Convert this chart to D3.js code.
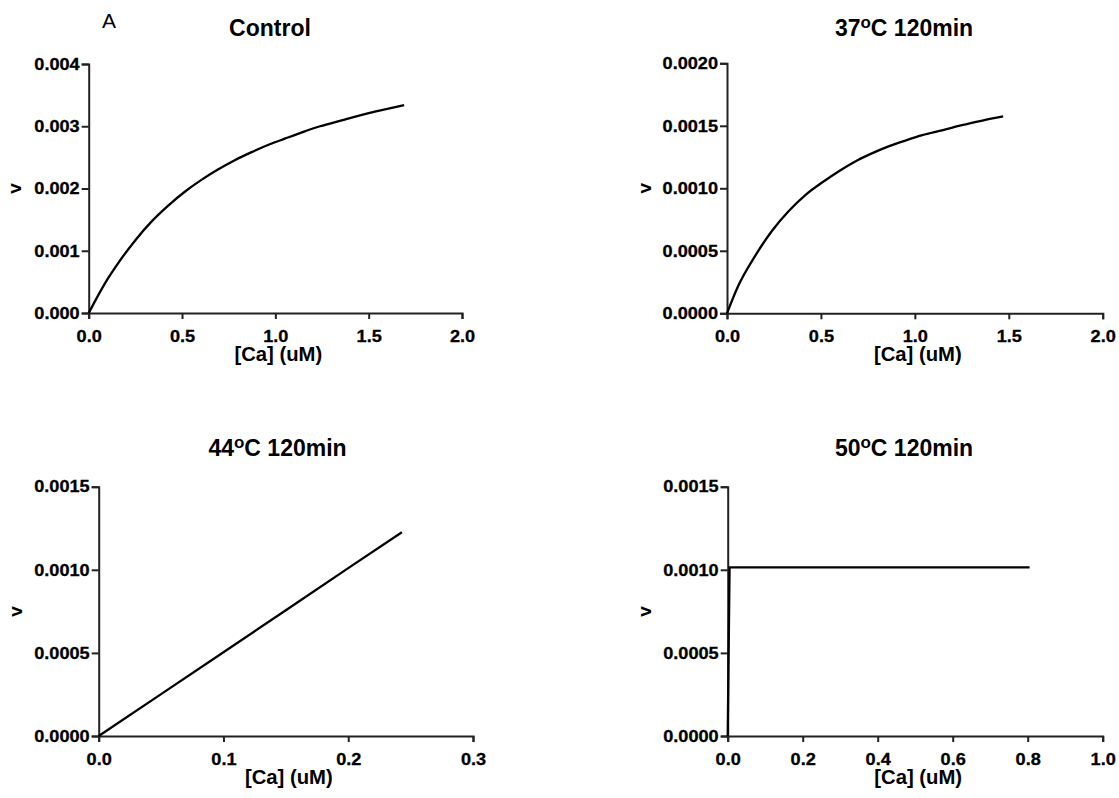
<!DOCTYPE html>
<html>
<head>
<meta charset="utf-8">
<script src="https://cdn.jsdelivr.net/npm/d3@7"></script>
<style>
  body { margin: 0; background: #fff; }
  svg { display: block; }
</style>
</head>
<body>
<svg width="1119" height="798"></svg>
<script>
// Values
const controlCa = [0, 0.05, 0.1, 0.16, 0.25, 0.34, 0.42, 0.52, 0.6, 0.69, 0.78, 0.87, 0.97, 1.05, 1.15, 1.24, 1.35, 1.5, 1.6, 1.69];
const controlV  = [0, 0.00028, 0.00054, 0.00081, 0.00117, 0.00148, 0.00171, 0.00196, 0.00213, 0.00230, 0.00245, 0.00258, 0.00271, 0.00280, 0.00291, 0.00300, 0.00309, 0.00321, 0.00328, 0.00334];

const t37Ca = [0, 0.06, 0.15, 0.24, 0.33, 0.42, 0.51, 0.6, 0.69, 0.78, 0.86, 0.95, 1.04, 1.15, 1.25, 1.36, 1.47];
const t37V  = [0, 0.00022, 0.00046, 0.00066, 0.00082, 0.00095, 0.00105, 0.00114, 0.00122, 0.001285, 0.001335, 0.001382, 0.001425, 0.001465, 0.001505, 0.001542, 0.001575];

const t44Ca = [0, 0.05, 0.1, 0.15, 0.2, 0.243];
const t44V  = [0, 0.000252, 0.000504, 0.000757, 0.00101, 0.001226];

const t50Ca = [0, 0.005, 0.2, 0.4, 0.6, 0.805];
const t50V  = [0, 0.001015, 0.001015, 0.001015, 0.001015, 0.001015];

// tick labels
const caTicks2  = [0, 0.5, 1.0, 1.5, 2.0];
const caTicks03 = [0, 0.1, 0.2, 0.3];
const caTicks1  = [0, 0.2, 0.4, 0.6, 0.8, 1.0];
const vTicks4   = [0, 0.001, 0.002, 0.003, 0.004];
const vTicks2   = [0, 0.0005, 0.001, 0.0015, 0.002];
const vTicks15  = [0, 0.0005, 0.001, 0.0015];

const svg = d3.select("svg");
const font = "'Liberation Sans', Arial, sans-serif";
const stretch = 1.1; // reference tick text is a bit wide

const panels = [
  { pre: "Control", sup: "", post: "", ca: controlCa, v: controlV, xTicks: caTicks2, yTicks: vTicks4, yFmt: ".3f",
    curve: d3.curveMonotoneX, box: { l: 88.7, r: 462, t: 64, b: 313 }, titleX: 270, titleY: 36, vX: 21 },
  { pre: "37", sup: "o", post: "C 120min", ca: t37Ca, v: t37V, xTicks: caTicks2, yTicks: vTicks2, yFmt: ".4f",
    curve: d3.curveMonotoneX, box: { l: 727, r: 1102.7, t: 63.3, b: 313.3 }, titleX: 904, titleY: 36, vX: 651 },
  { pre: "44", sup: "o", post: "C 120min", ca: t44Ca, v: t44V, xTicks: caTicks03, yTicks: vTicks15, yFmt: ".4f",
    curve: d3.curveLinear, box: { l: 98.7, r: 473, t: 486.7, b: 736 }, titleX: 277.5, titleY: 456, vX: 21.5 },
  { pre: "50", sup: "o", post: "C 120min", ca: t50Ca, v: t50V, xTicks: caTicks1, yTicks: vTicks15, yFmt: ".4f",
    curve: d3.curveLinear, box: { l: 727.7, r: 1102.7, t: 486.7, b: 736 }, titleX: 904, titleY: 456, vX: 651 }
];

// panel letter
svg.append("text")
    .attr("x", 102).attr("y", 28)
    .attr("font-family", font).attr("font-size", 21)
    .text("A");

panels.forEach(p => {
  const x = d3.scaleLinear().domain([p.xTicks[0], p.xTicks[p.xTicks.length - 1]]).range([p.box.l, p.box.r]);
  const y = d3.scaleLinear().domain([p.yTicks[0], p.yTicks[p.yTicks.length - 1]]).range([p.box.b, p.box.t]);

  // x axis
  const gx = svg.append("g")
      .attr("transform", `translate(0,${p.box.b})`)
      .call(d3.axisBottom(x).tickValues(p.xTicks).tickFormat(d3.format(".1f")).tickSize(6).tickPadding(11));
  // y axis
  const gy = svg.append("g")
      .attr("transform", `translate(${p.box.l},0)`)
      .call(d3.axisLeft(y).tickValues(p.yTicks).tickFormat(d3.format(p.yFmt)).tickSize(7).tickPadding(2));

  [gx, gy].forEach(g => {
    g.attr("font-family", font).attr("font-size", 16.5).attr("font-weight", "bold");
    g.select(".domain").attr("stroke", "#222").attr("stroke-width", 2);
    g.selectAll(".tick line").attr("stroke", "#222").attr("stroke-width", 2);
    g.selectAll(".tick text").attr("fill", "#000").attr("stroke", "#000").attr("stroke-width", 0.3);
  });
  gx.selectAll(".tick text").attr("transform", `scale(${stretch},1)`);
  gy.selectAll(".tick text").attr("x", -9 / stretch).attr("transform", `scale(${stretch},1)`);

  // fitted curve
  const line = d3.line()
      .x((d, i) => x(p.ca[i]))
      .y(d => y(d))
      .curve(p.curve);
  svg.append("path")
      .attr("d", line(p.v))
      .attr("fill", "none")
      .attr("stroke", "#000")
      .attr("stroke-width", 2.3);

  // title
  const t = svg.append("text")
      .attr("x", p.titleX).attr("y", p.titleY)
      .attr("text-anchor", "middle")
      .attr("font-family", font).attr("font-size", 23).attr("font-weight", "bold");
  t.append("tspan").text(p.pre);
  if (p.sup) {
    t.append("tspan").attr("font-size", 17).attr("dy", -8).text(p.sup);
    t.append("tspan").attr("dy", 8).text(p.post);
  }

  // x axis title
  svg.append("text")
      .attr("transform", `translate(${(p.box.l + p.box.r) / 2 + 3},${p.box.b + 48}) scale(1.04,1)`)
      .attr("text-anchor", "middle")
      .attr("font-family", font).attr("font-size", 19.5).attr("font-weight", "bold")
      .text("[Ca] (uM)");

  // y axis title
  svg.append("text")
      .attr("transform", `translate(${p.vX},${(p.box.t + p.box.b) / 2}) rotate(-90)`)
      .attr("text-anchor", "middle")
      .attr("font-family", font).attr("font-size", 19).attr("font-weight", "bold")
      .text("v");
});
</script>
</body>
</html>
